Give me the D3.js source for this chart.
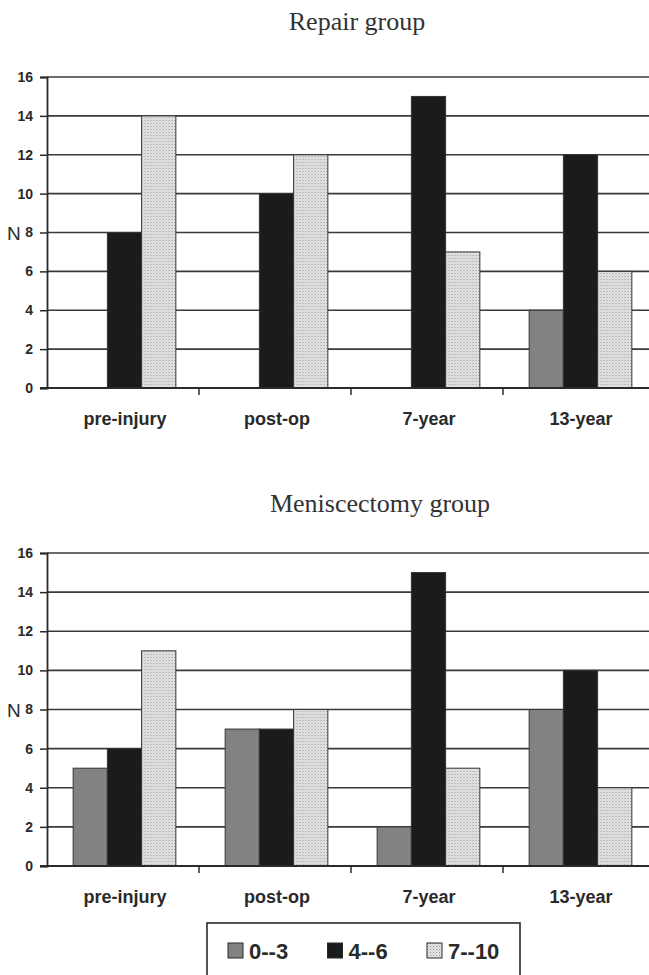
<!DOCTYPE html>
<html>
<head>
<meta charset="utf-8">
<script src="https://cdn.jsdelivr.net/npm/d3@7/dist/d3.min.js"></script>
<style>
html,body{margin:0;padding:0;background:#fff;overflow:hidden;}
svg{display:block;}
</style>
</head>
<body>
<svg id="chart" width="649" height="975"></svg>
<script>
// ---- data ----
const categories = ["pre-injury", "post-op", "7-year", "13-year"];
const seriesNames = ["0--3", "4--6", "7--10"];
const repair03 = [0, 0, 0, 4];
const repair46 = [8, 10, 15, 12];
const repair710 = [14, 12, 7, 6];
const menisc03 = [5, 7, 2, 8];
const menisc46 = [6, 7, 15, 10];
const menisc710 = [11, 8, 5, 4];
const yTicks = [0, 2, 4, 6, 8, 10, 12, 14, 16];
const titles = ["Repair group", "Meniscectomy group"];

const svg = d3.select("#chart");
const defs = svg.append("defs");
const pat = defs.append("pattern").attr("id", "dots").attr("patternUnits", "userSpaceOnUse")
  .attr("width", 3).attr("height", 3);
pat.append("rect").attr("width", 3).attr("height", 3).attr("fill", "#e6e6e6");
pat.append("rect").attr("x", 0).attr("y", 0).attr("width", 1).attr("height", 1).attr("fill", "#8f8f8f");
pat.append("rect").attr("x", 1.5).attr("y", 1.5).attr("width", 1).attr("height", 1).attr("fill", "#b5b5b5");

const fills = ["#828282", "#1b1b1b", "url(#dots)"];

function drawChart(cfg) {
  const g = svg.append("g");
  const x0 = d3.scaleBand().domain(categories).range([47, 655]).paddingInner(0).paddingOuter(0);
  const x1 = d3.scaleBand().domain(seriesNames).range([0, x0.bandwidth()]).paddingInner(0).paddingOuter(0.72);
  const y = d3.scaleLinear().domain([0, 16]).range([cfg.y0, cfg.y16]);

  // title
  g.append("text").attr("x", cfg.titleX).attr("y", cfg.titleY).attr("text-anchor", "middle")
    .attr("font-family", "'Liberation Serif','Times New Roman',serif").attr("font-size", 26)
    .attr("fill", "#333").text(cfg.title);

  // gridlines
  g.append("g").selectAll("line").data(yTicks.filter(d => d > 0)).join("line")
    .attr("x1", 47).attr("x2", 649).attr("y1", d => y(d)).attr("y2", d => y(d))
    .attr("stroke", "#3a3a3a").attr("stroke-width", 1.6);

  // bars
  const data = categories.map((c, i) => ({cat: c, vals: cfg.series.map(s => s[i])}));
  const grp = g.append("g").selectAll("g").data(data).join("g")
    .attr("transform", d => `translate(${x0(d.cat) + 1.5},0)`);
  grp.selectAll("rect").data(d => d.vals.map((v, k) => ({v, k}))).join("rect")
    .filter(d => d.v > 0)
    .attr("x", d => x1(seriesNames[d.k])).attr("width", x1.bandwidth())
    .attr("y", d => y(d.v)).attr("height", d => y(0) - y(d.v))
    .attr("fill", d => fills[d.k]).attr("stroke", "#333").attr("stroke-width", 1);

  // y axis
  const ya = g.append("g").attr("transform", "translate(47,0)")
    .call(d3.axisLeft(y).tickValues(yTicks).tickSize(7).tickPadding(7));
  ya.select(".domain").attr("stroke", "#2a2a2a").attr("stroke-width", 1.8);
  ya.selectAll(".tick line").attr("stroke", "#2a2a2a").attr("stroke-width", 1.5);
  ya.selectAll(".tick text").attr("font-family", "'Liberation Sans',Arial,sans-serif")
    .attr("font-weight", "bold").attr("font-size", 14).attr("fill", "#2a2a2a");

  // x axis
  const xa = g.append("g").attr("transform", `translate(0,${cfg.y0})`)
    .call(d3.axisBottom(x0).tickSize(0).tickPadding(24));
  xa.select(".domain").remove();
  xa.append("line").attr("x1", 40).attr("x2", 649).attr("stroke", "#2a2a2a").attr("stroke-width", 1.8);
  xa.selectAll(".tick text").attr("font-family", "'Liberation Sans',Arial,sans-serif")
    .attr("font-weight", "bold").attr("font-size", 18).attr("fill", "#2a2a2a").attr("dx", 2);
  xa.selectAll(".bnd").data(categories.slice(1)).join("line").attr("class", "bnd")
    .attr("x1", d => x0(d)).attr("x2", d => x0(d)).attr("y1", 0).attr("y2", 7)
    .attr("stroke", "#2a2a2a").attr("stroke-width", 1.5);

  // N label
  g.append("text").attr("x", 7).attr("y", y(8) + 7)
    .attr("font-family", "'Liberation Sans',Arial,sans-serif").attr("font-size", 19)
    .attr("fill", "#2a2a2a").text("N");
}

drawChart({title: titles[0], titleX: 357, titleY: 30, y0: 388, y16: 77,
  series: [repair03, repair46, repair710]});
drawChart({title: titles[1], titleX: 380, titleY: 512, y0: 866, y16: 553,
  series: [menisc03, menisc46, menisc710]});

// legend
const lg = svg.append("g");
lg.append("rect").attr("x", 207).attr("y", 923).attr("width", 313).attr("height", 70)
  .attr("fill", "none").attr("stroke", "#2a2a2a").attr("stroke-width", 1.6);
const legX = d3.scalePoint().domain(seriesNames).range([228, 427]);
const items = lg.selectAll("g.it").data(seriesNames).join("g").attr("class", "it")
  .attr("transform", d => `translate(${legX(d)},943)`);
items.append("rect").attr("width", 15).attr("height", 15)
  .attr("fill", (d, i) => fills[i]).attr("stroke", "#2a2a2a").attr("stroke-width", 1);
items.append("text").attr("x", 21).attr("y", 15.5)
  .attr("font-family", "'Liberation Sans',Arial,sans-serif").attr("font-weight", "bold")
  .attr("font-size", 22).attr("fill", "#2a2a2a").text(d => d);
</script>
</body>
</html>
